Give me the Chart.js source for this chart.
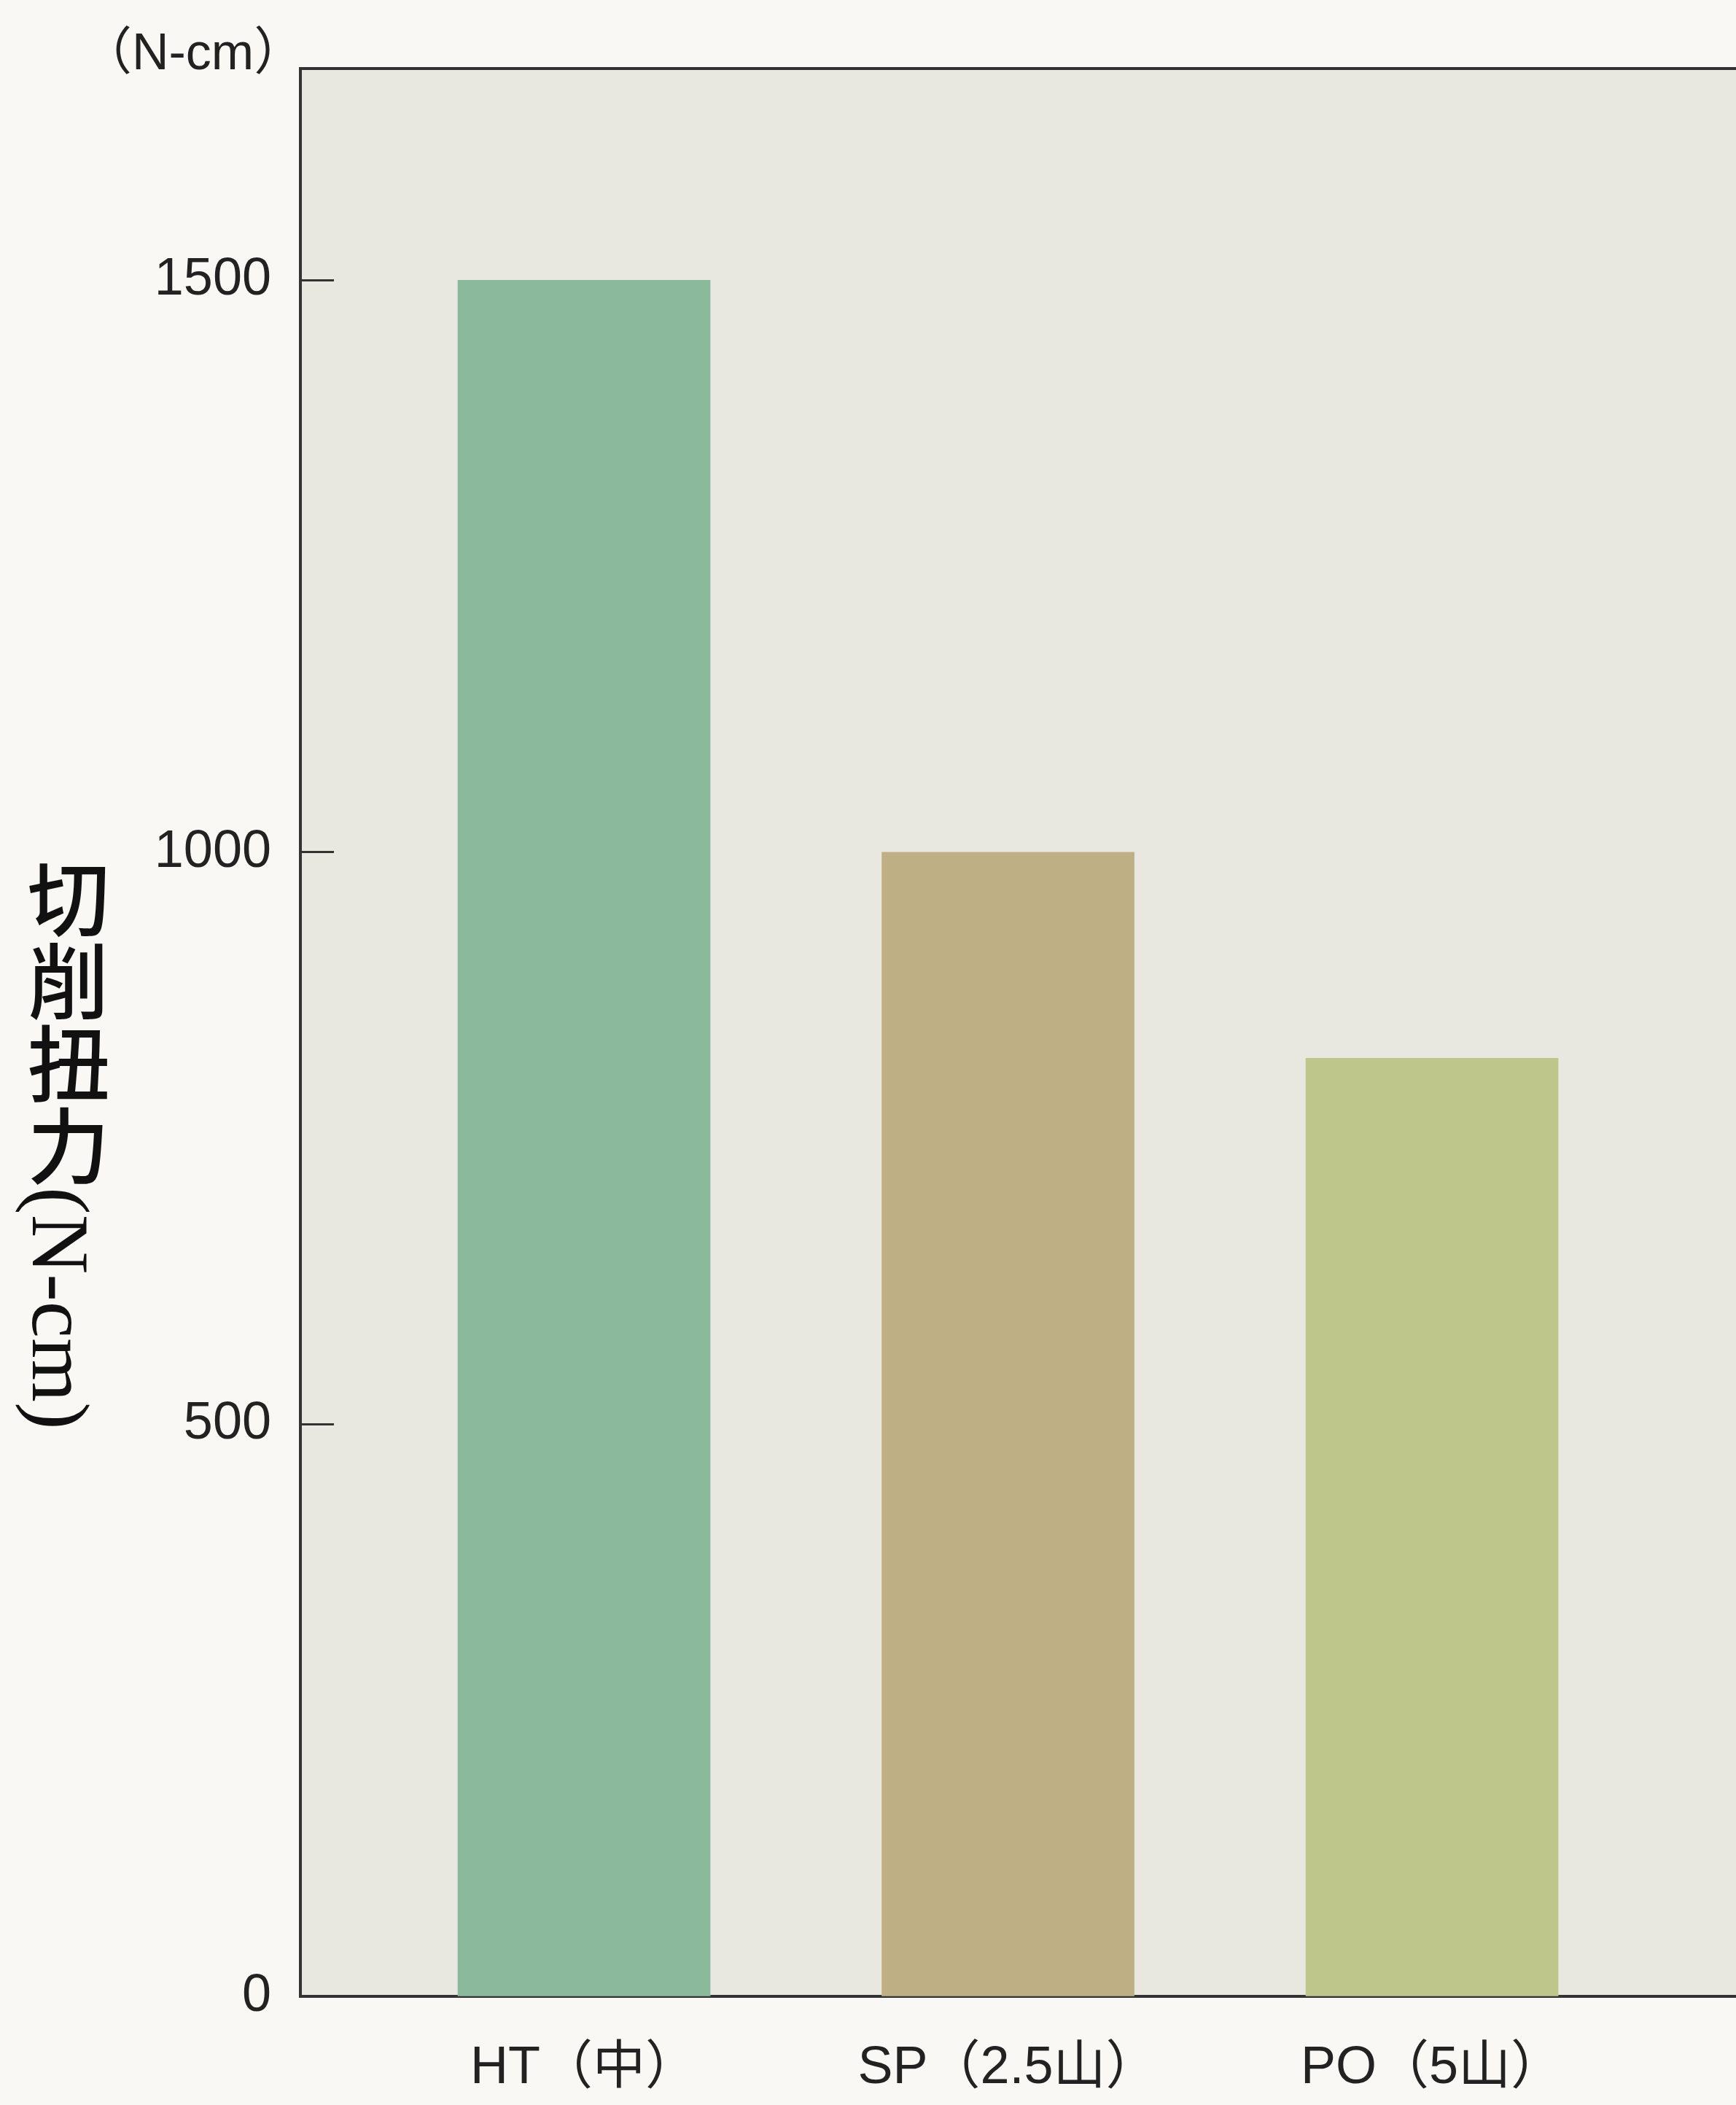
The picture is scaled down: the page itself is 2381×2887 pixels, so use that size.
<!DOCTYPE html>
<html lang="zh-Hant">
<head>
    <meta charset="UTF-8">
    <title>切削扭力</title>
    <script src="https://cdn.jsdelivr.net/npm/chart.js"></script>
    <style>
        html, body { margin: 0; padding: 0; background: #f9f8f4; overflow: hidden; }
        .wrap { position: relative; width: 2381px; height: 2887px; }
        .unit {
            position: absolute; left: 146px; top: 36px;
            font-family: 'Liberation Sans', 'Noto Sans CJK TC', sans-serif;
            font-size: 70px; color: #222; line-height: 1;
            font-feature-settings: "halt";
        }
        .ytitle {
            position: absolute; left: 27px; top: 1176px;
            writing-mode: vertical-rl; text-orientation: mixed;
            font-family: 'Liberation Serif', 'Noto Sans CJK TC', serif;
            font-size: 113px; font-weight: 500; line-height: 1; color: #111;
        }
    </style>
</head>
<body>
    <div class="wrap">
        <canvas id="torqueChart" width="2381" height="2887"></canvas>
        <div class="unit">（N-cm）</div>
        <div class="ytitle">切削扭力(N-cm)</div>
    </div>
    <script>
        const categories = ['HT（中）', 'SP（2.5山）', 'PO（5山）'];
        const torque = [1500, 1000, 820];
        const barColors = ['#8ab99b', '#beaf84', '#bec68c'];
        const yTicks = [0, 500, 1000, 1500];

        const fontFamily = "'Liberation Sans', 'Noto Sans CJK TC', sans-serif";

        // plot background + top frame line
        const plotFrame = {
            id: 'plotFrame',
            beforeDraw(chart) {
                const { ctx, chartArea: a } = chart;
                ctx.save();
                ctx.fillStyle = '#e9e8e0';
                ctx.fillRect(a.left, a.top, a.right - a.left, a.bottom - a.top);
                ctx.strokeStyle = '#333';
                ctx.lineWidth = 4;
                ctx.beginPath();
                ctx.moveTo(a.left - 2, a.top);
                ctx.lineTo(a.right, a.top);
                ctx.stroke();
                ctx.restore();
            }
        };

        const ctx = document.getElementById('torqueChart').getContext('2d');
        new Chart(ctx, {
            type: 'bar',
            data: {
                datasets: [{
                    data: categories.map((c, i) => ({ x: i, y: torque[i] })),
                    backgroundColor: barColors,
                    borderWidth: 0,
                    barThickness: 346
                }]
            },
            options: {
                responsive: false,
                animation: false,
                layout: { padding: { top: 94, right: 0, bottom: 0, left: 0 } },
                plugins: {
                    legend: { display: false },
                    tooltip: { enabled: false }
                },
                scales: {
                    x: {
                        type: 'linear',
                        min: -0.669,
                        max: 2.717,
                        offset: false,
                        z: 1,
                        afterBuildTicks: s => { s.ticks = categories.map((c, i) => ({ value: i })); },
                        afterFit: s => { s.height = 149; s.paddingLeft = 0; s.paddingRight = 0; },
                        grid: { display: false, drawTicks: false, offset: false },
                        border: { display: true, color: '#333', width: 4 },
                        ticks: {
                            callback: v => categories[v],
                            color: '#222',
                            padding: 56,
                            maxRotation: 0,
                            font: { family: fontFamily, size: 72 }
                        }
                    },
                    y: {
                        min: 0,
                        max: 1685,
                        z: 1,
                        afterBuildTicks: s => { s.ticks = yTicks.map(v => ({ value: v })); },
                        afterFit: s => { s.width = 412; s.paddingTop = 0; s.paddingBottom = 0; },
                        grid: {
                            drawOnChartArea: false,
                            drawTicks: true,
                            tickLength: -46,
                            tickWidth: 3,
                            tickColor: '#333'
                        },
                        border: { display: true, color: '#333', width: 4 },
                        ticks: {
                            callback: v => String(v),
                            color: '#222',
                            padding: 86,
                            font: { family: fontFamily, size: 72 }
                        }
                    }
                }
            },
            plugins: [plotFrame]
        });
    </script>
</body>
</html>
